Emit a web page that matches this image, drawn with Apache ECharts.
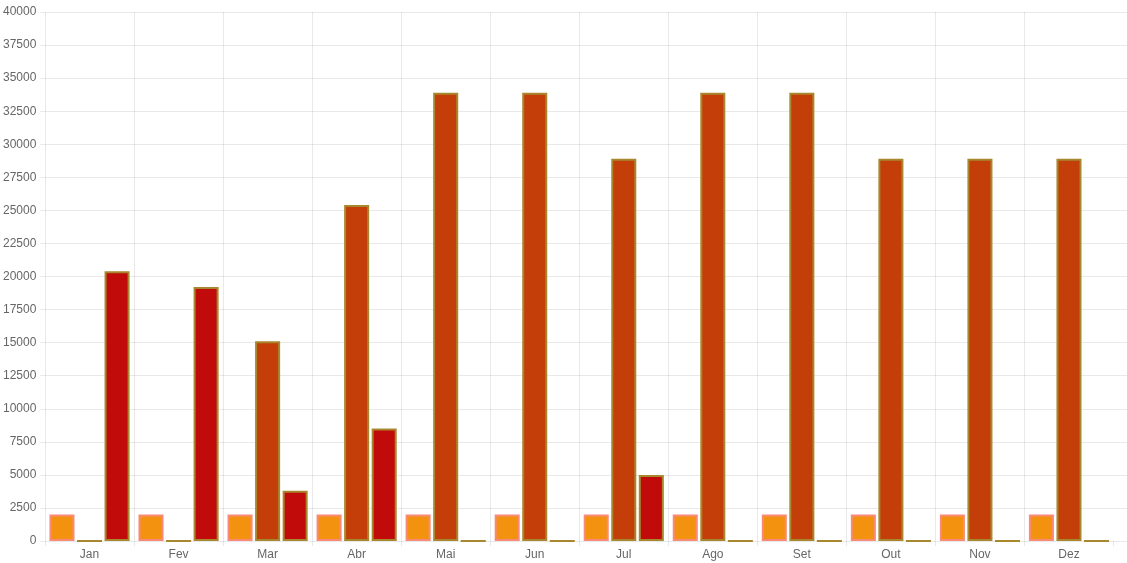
<!DOCTYPE html>
<html>
<head>
<meta charset="utf-8">
<script src="https://cdn.jsdelivr.net/npm/echarts@6/dist/echarts.min.js"></script>
<style>
html,body{margin:0;padding:0;background:#fff;}
#chart{width:1127px;height:563px;}
</style>
</head>
<body>
<div id="chart"></div>
<script>
const categories = ['Jan','Fev','Mar','Abr','Mai','Jun','Jul','Ago','Set','Out','Nov','Dez'];
const serie1 = [2000,2000,2000,2000,2000,2000,2000,2000,2000,2000,2000,2000];
const serie2 = [0,0,15100,25400,33900,33900,28900,33900,33900,28900,28900,28900];
const serie3 = [20400,19200,3800,8500,0,0,5000,0,0,0,0,0];
const yMin = 0, yMax = 40000, yStep = 2500;

const chart = echarts.init(document.getElementById('chart'));
const gridColor = 'rgba(0,0,0,0.085)';
const font = 'Liberation Sans, Arial, Helvetica, sans-serif';
const vColors = categories.map(() => gridColor).concat(['rgba(0,0,0,0)']);
chart.setOption({
  animation: false,
  grid: [
    {left: 45, right: 0, top: 12, bottom: 22},
    {left: 45, right: 13.5, top: 12, bottom: 22}
  ],
  xAxis: [
    {gridIndex: 0, type: 'value', show: false, min: 0, max: 1},
    {gridIndex: 1, type: 'category', data: categories,
     axisLine: {show: false},
     axisTick: {show: true, length: 5, lineStyle: {color: gridColor}},
     splitLine: {show: true, lineStyle: {color: vColors, width: 1}},
     axisLabel: {color: '#666', fontSize: 12, fontFamily: font, margin: 8}}
  ],
  yAxis: [
    {gridIndex: 0, type: 'value', min: yMin, max: yMax, interval: yStep,
     axisLine: {show: false},
     axisTick: {show: true, length: 5, lineStyle: {color: gridColor}},
     splitLine: {show: true, lineStyle: {color: gridColor, width: 1}},
     axisLabel: {color: '#666', fontSize: 12, fontFamily: font, margin: 9,
                 formatter: v => String(v)}},
    {gridIndex: 1, type: 'value', min: yMin, max: yMax, interval: yStep, show: false,
     splitLine: {show: false}}
  ],
  series: [
    {type: 'bar', xAxisIndex: 1, yAxisIndex: 1, data: serie1,
     barCategoryGap: '10%', barGap: '10%',
     itemStyle: {color: '#f3920f', borderColor: '#f98a78', borderWidth: 2}},
    {type: 'bar', xAxisIndex: 1, yAxisIndex: 1, data: serie2,
     barCategoryGap: '10%', barGap: '10%',
     itemStyle: {color: '#c33e08', borderColor: '#a8882e', borderWidth: 2}},
    {type: 'bar', xAxisIndex: 1, yAxisIndex: 1, data: serie3,
     barCategoryGap: '10%', barGap: '10%',
     itemStyle: {color: '#c10a0a', borderColor: '#a8882e', borderWidth: 2}}
  ]
});
</script>
</body>
</html>
